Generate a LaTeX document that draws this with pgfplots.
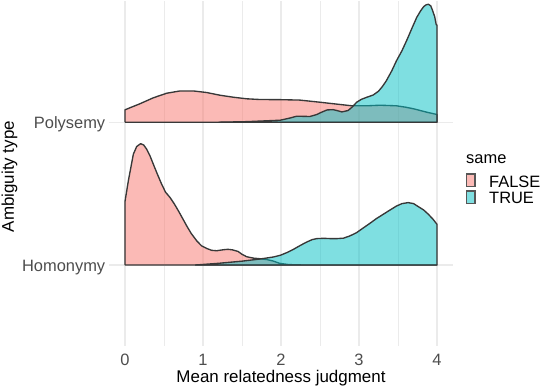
\documentclass[border=0pt]{standalone}
\usepackage{fontspec}
\setmainfont{Liberation Sans}
\usepackage{pgfplots}
\pgfplotsset{compat=1.18}

\definecolor{ggred}{HTML}{F8766D}
\definecolor{ggteal}{HTML}{00BFC4}
\definecolor{outl}{HTML}{383838}
\definecolor{gridmaj}{HTML}{EBEBEB}
\definecolor{ticktxt}{HTML}{4D4D4D}

\begin{document}
\begin{tikzpicture}
\begin{axis}[
  name=ax,
  scale only axis, width=343.2bp, height=345bp,
  xmin=-0.2, xmax=4.2, ymin=0.436, ymax=2.852,
  xtick={0,1,2,3,4}, minor xtick={0.5,1.5,2.5,3.5},
  ytick={1,2}, yticklabels={Homonymy,Polysemy},
  axis line style={draw=none},
  major tick length=0pt, minor tick length=0pt,
  xmajorgrids, xminorgrids, ymajorgrids,
  major grid style={gridmaj, line width=1.1bp},
  minor grid style={gridmaj, line width=0.6bp},
  /pgf/number format/assume math mode=true,
  tick label style={font=\fontsize{16.5}{18}\selectfont, text=ticktxt, inner sep=0pt},
  xticklabel style={yshift=-8.5bp},
  yticklabel style={anchor=base east, yshift=-6.6bp, xshift=-4bp},
  xlabel={Mean relatedness judgment},
  ylabel={Ambiguity type},
  label style={font=\fontsize{17}{20}\selectfont, inner sep=0pt},
  xlabel style={at={(axis description cs:0.5,-0.1072)}, anchor=base},
  ylabel style={at={(axis description cs:-0.278,0.49)}, anchor=base},
  every axis plot/.append style={draw=outl, line width=1.35bp, line join=round, fill opacity=0.5},
]
% Polysemy, FALSE
\addplot[fill=ggred] coordinates {
 (0,2) (0,2.087) (0.19,2.129) (0.363,2.171) (0.534,2.203) (0.705,2.219)
 (0.876,2.219) (1.047,2.208) (1.218,2.189) (1.39,2.175) (1.56,2.164)
 (1.73,2.159) (1.99,2.158) (2.24,2.155) (2.5,2.14) (2.76,2.124) (2.91,2.115)
 (3.1,2.115) (3.27,2.119) (3.48,2.115) (3.6,2.105) (3.70,2.094) (3.87,2.07)
 (4,2.054) (4,2) (0,2)};
% Polysemy, TRUE
\addplot[fill=ggteal] coordinates {
 (1.2,2) (1.56,2.004) (1.73,2.008) (1.99,2.014) (2.12,2.03) (2.2,2.042)
 (2.3,2.041) (2.37,2.04) (2.46,2.054) (2.52,2.07) (2.59,2.086) (2.67,2.088)
 (2.73,2.08) (2.78,2.072) (2.86,2.082) (2.92,2.11) (2.97,2.14) (3.03,2.16)
 (3.1,2.175) (3.18,2.19) (3.25,2.217) (3.3,2.25) (3.35,2.29) (3.42,2.36)
 (3.48,2.43) (3.55,2.5) (3.61,2.571) (3.68,2.66) (3.74,2.734) (3.79,2.78)
 (3.83,2.81) (3.86,2.822) (3.89,2.826) (3.92,2.815) (3.94,2.787) (3.97,2.74)
 (3.99,2.683) (4,2.68) (4,2) (1.2,2)};
% Homonymy, FALSE
\addplot[fill=ggred] coordinates {
 (0,1) (0,1.445) (0.043,1.59) (0.107,1.776) (0.15,1.83) (0.201,1.85)
 (0.24,1.84) (0.278,1.811) (0.32,1.765) (0.363,1.706) (0.42,1.63) (0.47,1.566)
 (0.52,1.51) (0.577,1.473) (0.63,1.43) (0.684,1.38) (0.74,1.325) (0.79,1.275)
 (0.85,1.22) (0.919,1.17) (0.98,1.135) (1.047,1.116) (1.11,1.103) (1.175,1.1)
 (1.26,1.107) (1.32,1.11) (1.38,1.106) (1.45,1.095) (1.5,1.075) (1.56,1.058)
 (1.65,1.048) (1.73,1.044) (1.82,1.038) (1.9,1.028) (1.98,1.012) (2.1,1.003)
 (2.3,1.0) (4,1) (0,1)};
% Homonymy, TRUE
\addplot[fill=ggteal] coordinates {
 (0.9,1) (1.2,1.012) (1.5,1.027) (1.73,1.042) (1.9,1.056) (1.99,1.068)
 (2.08,1.088) (2.16,1.11) (2.25,1.138) (2.33,1.161) (2.4,1.178) (2.46,1.185)
 (2.55,1.187) (2.63,1.185) (2.72,1.185) (2.8,1.188) (2.88,1.203) (2.97,1.227)
 (3.05,1.258) (3.14,1.292) (3.22,1.324) (3.31,1.355) (3.4,1.386) (3.48,1.413)
 (3.55,1.43) (3.63,1.437) (3.7,1.43) (3.76,1.409) (3.83,1.385) (3.89,1.355)
 (3.95,1.32) (4,1.285) (4,1) (0.9,1)};
\end{axis}

% legend, in pixel units from the panel's top left corner
\begin{scope}[shift={(ax.north west)}, x=1bp, y=-1bp,
  every node/.style={inner sep=0pt, font=\fontsize{16.5}{18}\selectfont}]
  \node[anchor=base west] at (356.6,163) {same};
  \draw[outl!85, line width=1.2bp, fill=ggred, fill opacity=0.5] (357,173.5) rectangle (365.5,186);
  \draw[outl!85, line width=1.2bp, fill=ggteal, fill opacity=0.5] (357,190.5) rectangle (365.5,203);
  \node[anchor=base west] at (379.6,186.7) {FALSE};
  \node[anchor=base west] at (379.6,203.3) {TRUE};
  \path (-109.4,0) rectangle (432.6,388);
\end{scope}
\end{tikzpicture}
\end{document}
